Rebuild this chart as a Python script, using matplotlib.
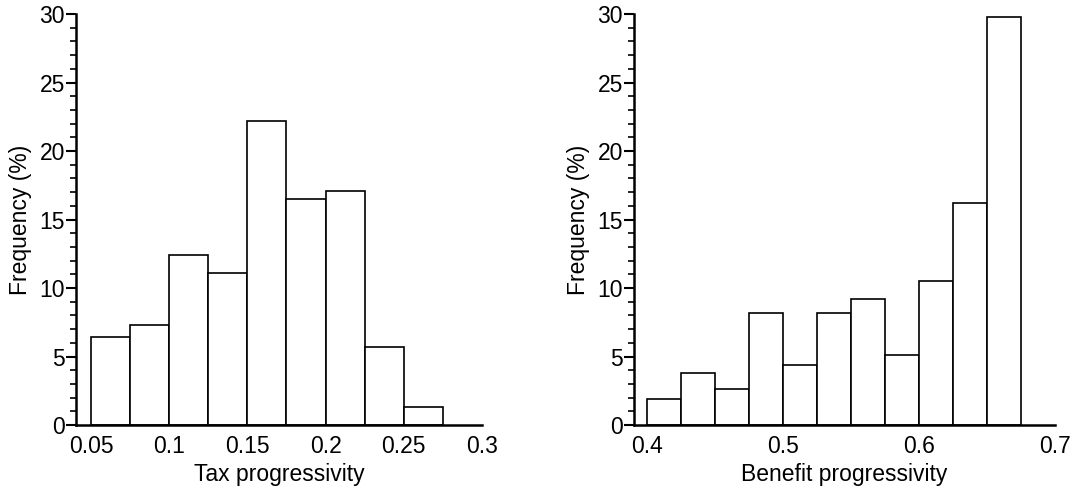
import numpy as np
import matplotlib.pyplot as plt
from matplotlib.ticker import MultipleLocator

plt.rcParams['font.family'] = ['Liberation Sans', 'DejaVu Sans']

# bin edges start + width 0.025, heights in percent
tax_edges = [0.05, 0.075, 0.1, 0.125, 0.15, 0.175, 0.2, 0.225, 0.25, 0.275]
tax_freq = [6.4, 7.3, 12.4, 11.1, 22.2, 16.5, 17.1, 5.7, 1.3]

ben_edges = [0.4, 0.425, 0.45, 0.475, 0.5, 0.525, 0.55, 0.575, 0.6, 0.625, 0.65, 0.675]
ben_freq = [1.9, 3.8, 2.6, 8.2, 4.4, 8.2, 9.2, 5.1, 10.5, 16.2, 29.8]

tax_ticks = [0.05, 0.1, 0.15, 0.2, 0.25, 0.3]
tax_ticklabels = ['0.05', '0.1', '0.15', '0.2', '0.25', '0.3']
ben_ticks = [0.4, 0.5, 0.6, 0.7]
ben_ticklabels = ['0.4', '0.5', '0.6', '0.7']

fig = plt.figure(figsize=(10.87, 4.91), dpi=100)
ax1 = fig.add_axes([0.0699, 0.1344, 0.3735, 0.837])
ax2 = fig.add_axes([0.5833, 0.1344, 0.3873, 0.837])


def draw_hist(ax, edges, freq, ticks, ticklabels, xlim, xlabel):
    edges = np.asarray(edges)
    ax.bar(edges[:-1], freq, width=np.diff(edges), align='edge',
           facecolor='white', edgecolor='black', linewidth=1.2)
    ax.set_xlim(*xlim)
    ax.set_ylim(0, 30)
    ax.set_xticks(ticks)
    ax.set_xticklabels(ticklabels)
    ax.set_yticks([0, 5, 10, 15, 20, 25, 30])
    ax.yaxis.set_minor_locator(MultipleLocator(1))
    for side in ('top', 'right'):
        ax.spines[side].set_visible(False)
    for side in ('left', 'bottom'):
        ax.spines[side].set_linewidth(1.8)
    ax.tick_params(axis='x', length=0, pad=7, labelsize=16.5)
    ax.tick_params(axis='y', which='major', length=7, width=1.5, labelsize=16.5, pad=1)
    ax.tick_params(axis='y', which='minor', length=4, width=1.2)
    ax.set_xlabel(xlabel, fontsize=16.5, labelpad=4)
    ax.set_ylabel('Frequency (%)', fontsize=16.5, labelpad=5)


draw_hist(ax1, tax_edges, tax_freq, tax_ticks, tax_ticklabels,
          (0.0404, 0.3), 'Tax progressivity')
draw_hist(ax2, ben_edges, ben_freq, ben_ticks, ben_ticklabels,
          (0.3904, 0.7), 'Benefit progressivity')

fig.savefig('out.png', dpi=100)
